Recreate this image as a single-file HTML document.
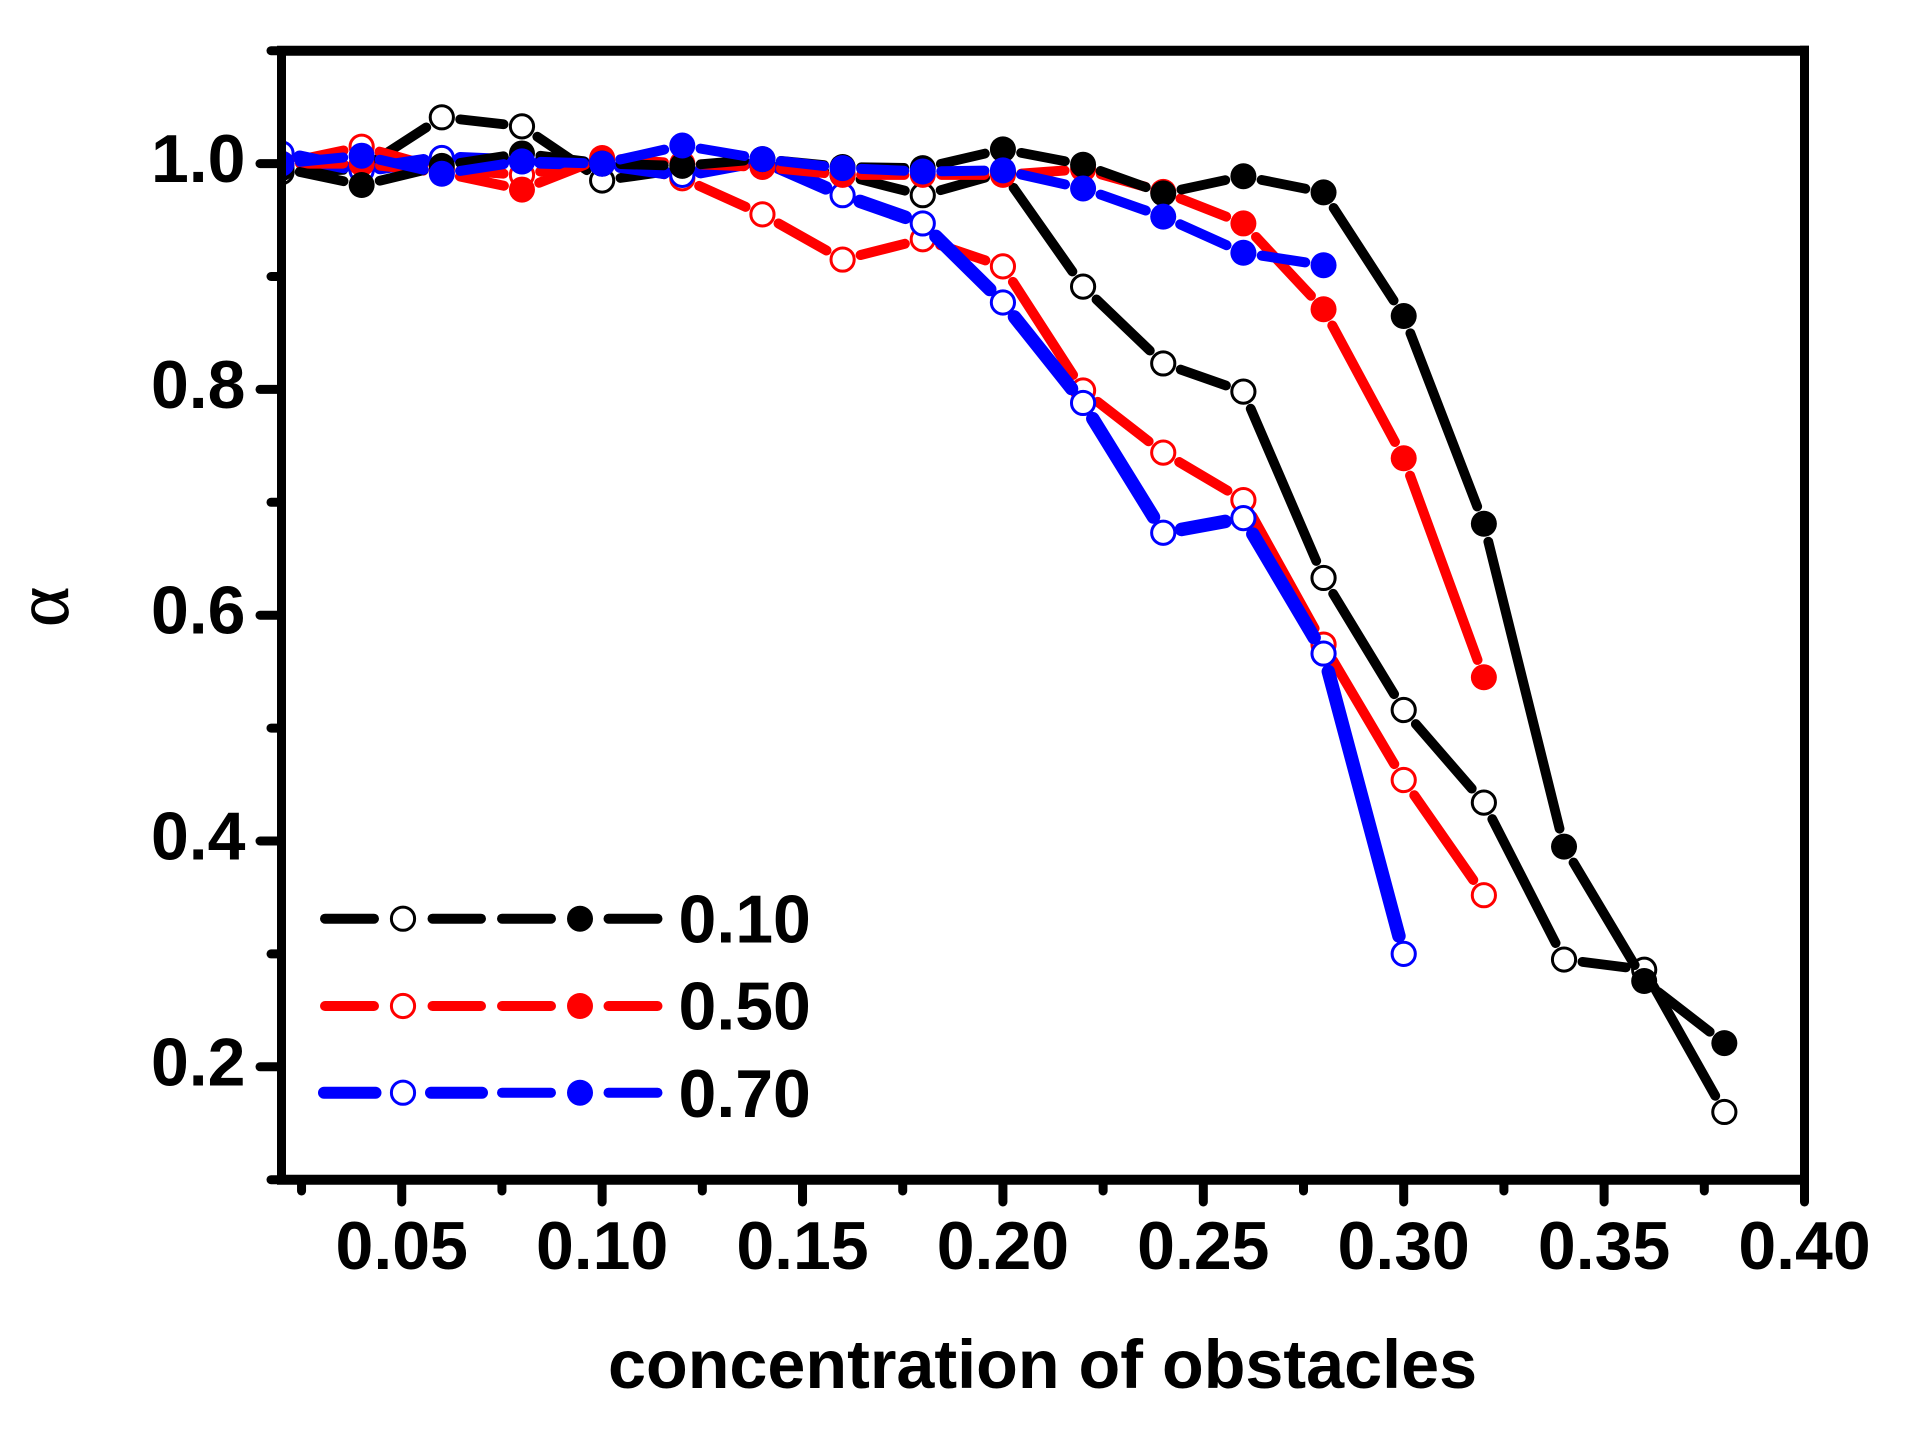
<!DOCTYPE html>
<html lang="en">
<head>
<meta charset="utf-8">
<title>Alpha vs concentration of obstacles</title>
<style>
  html, body { margin: 0; padding: 0; background: #fff; }
  svg { display: block; }
  text { fill: #000; }
  .num { font-family: "Liberation Sans", sans-serif; font-weight: bold; font-size: 68px; }
  .title { font-family: "Liberation Sans", sans-serif; font-weight: bold; font-size: 68.3px; }
  .greek { font-family: "Liberation Serif", serif; font-size: 76px; stroke: #000; stroke-width: 0.8px; }
</style>
</head>
<body>
<svg id="chart" xmlns="http://www.w3.org/2000/svg" width="1905" height="1437" viewBox="0 0 1905 1437">
  <rect x="0" y="0" width="1905" height="1437" fill="#fff"/>
  <defs><clipPath id="plot-clip"><rect x="281.5" y="46" width="1528" height="1140"/></clipPath></defs>
  <g id="plot" clip-path="url(#plot-clip)"></g>
  <g id="axes"></g>
  <text class="title" x="608" y="1388">concentration of obstacles</text>
  <text class="greek" text-anchor="middle" transform="translate(68,607) rotate(-90)">α</text>
  <g>
    <g stroke="#000" stroke-linecap="round" fill="none">
      <path stroke-width="10" d="M325 918.7H374M432.5 918.7H481"/>
      <circle cx="403" cy="918.7" r="11.6" stroke-width="3" fill="#fff"/>
      <path stroke-width="10" d="M502 918.7H551M608.5 918.7H657.5"/>
      <circle cx="580" cy="918.7" r="13" stroke="none" fill="#000"/>
      <text class="num" x="678.5" y="942.5" stroke="none" fill="#000">0.10</text>
    </g>
    <g stroke="#f00" stroke-linecap="round" fill="none">
      <path stroke-width="10" d="M325 1006H374M432.5 1006H481"/>
      <circle cx="403" cy="1006" r="11.6" stroke-width="3" fill="#fff"/>
      <path stroke-width="10" d="M502 1006H551M608.5 1006H657.5"/>
      <circle cx="580" cy="1006" r="13" stroke="none" fill="#f00"/>
      <text class="num" x="678.5" y="1029.7" stroke="none" fill="#000">0.50</text>
    </g>
    <g stroke="#00f" stroke-linecap="round" fill="none">
      <path stroke-width="12" d="M324 1092.7H375.5M431 1092.7H482"/>
      <circle cx="403" cy="1092.7" r="11.6" stroke-width="3" fill="#fff"/>
      <path stroke-width="10" d="M502 1092.7H551M608.5 1092.7H657.5"/>
      <circle cx="580" cy="1092.7" r="13" stroke="none" fill="#00f"/>
      <text class="num" x="678.5" y="1117" stroke="none" fill="#000">0.70</text>
    </g>
  </g>
</svg>
<script>
// ---- chart data ----
const concentrations = [0.02,0.04,0.06,0.08,0.10,0.12,0.14,0.16,0.18,0.20,0.22,0.24,0.26,0.28,0.30,0.32,0.34,0.36,0.38];
const blackOpenValues = [0.9925,0.995,1.041,1.033,0.985,0.995,1.003,0.99,0.972,0.992,0.891,0.823,0.798,0.633,0.516,0.434,0.295,0.286,0.16];
const blackFilledValues = [0.996,0.981,0.998,1.009,1.0,0.998,1.004,0.997,0.996,1.0126,0.999,0.9736,0.9888,0.9745,0.865,0.681,0.395,0.276,0.221];
const redOpenValues = [1.0,1.015,0.995,0.99,1.003,0.987,0.955,0.915,0.933,0.909,0.799,0.744,0.702,0.574,0.454,0.352];
const redFilledValues = [1.0,1.0,0.992,0.977,1.005,1.0,0.997,0.99,0.99,0.99,0.995,0.975,0.947,0.871,0.739,0.545];
const blueOpenValues = [1.009,0.994,1.005,1.002,1.0,0.99,1.003,0.972,0.947,0.877,0.788,0.673,0.686,0.566,0.3];
const blueFilledValues = [1.0,1.007,0.991,1.002,1.0,1.016,1.004,0.996,0.993,0.994,0.978,0.953,0.921,0.910];

const xMajorTicks = [0.05,0.10,0.15,0.20,0.25,0.30,0.35,0.40];
const xMinorTicks = [0.025,0.075,0.125,0.175,0.225,0.275,0.325,0.375];
const xTickLabels = ["0.05","0.10","0.15","0.20","0.25","0.30","0.35","0.40"];
const yMajorTicks = [0.2,0.4,0.6,0.8,1.0];
const yMinorTicks = [0.1,0.3,0.5,0.7,0.9,1.1];
const yTickLabels = ["0.2","0.4","0.6","0.8","1.0"];

// ---- axis functions ----
const SVGNS = "http://www.w3.org/2000/svg";
function xScale(v) { return 281.5 + (v - 0.02) * (1523 / 0.38); }
function yScale(v) { return 163.6 + (1 - v) * 1129; }

function make(tag, attrs, parent) {
  const el = document.createElementNS(SVGNS, tag);
  for (const k in attrs) el.setAttribute(k, attrs[k]);
  parent.appendChild(el);
  return el;
}

// ---- series ----
const plot = document.getElementById("plot");
function drawSeries(name, values, color, width, filled) {
  const g = make("g", {}, plot);
  
  
  const pts = values.map(function (v, i) { return [xScale(concentrations[i]), yScale(v)]; });
  const gap = 18.5;
  for (let i = 0; i < pts.length - 1; i++) {
    const dx = pts[i + 1][0] - pts[i][0];
    const dy = pts[i + 1][1] - pts[i][1];
    const len = Math.hypot(dx, dy);
    const ux = dx / len, uy = dy / len;
    const seg = make("line", {
      x1: pts[i][0] + ux * gap, y1: pts[i][1] + uy * gap,
      x2: pts[i + 1][0] - ux * gap, y2: pts[i + 1][1] - uy * gap,
      stroke: color, "stroke-width": width, "stroke-linecap": "round"
    }, g);
    
    
  }
  pts.forEach(function (p) {
    const dot = filled
      ? make("circle", { cx: p[0], cy: p[1], r: 13, fill: color }, g)
      : make("circle", { cx: p[0], cy: p[1], r: 11.6, fill: "#fff", stroke: color, "stroke-width": 3 }, g);
    
    
  });
}
drawSeries("black-open", blackOpenValues, "#000", 9.8, false);
drawSeries("red-open", redOpenValues, "#f00", 10, false);
drawSeries("blue-open", blueOpenValues, "#00f", 13.5, false);
drawSeries("red-filled", redFilledValues, "#f00", 10, true);
drawSeries("black-filled", blackFilledValues, "#000", 9.8, true);
drawSeries("blue-filled", blueFilledValues, "#00f", 10, true);

// ---- axes ----
const axes = document.getElementById("axes");
const frameX0 = xScale(0.02), frameX1 = xScale(0.40);
const frameY0 = yScale(0.1), frameY1 = yScale(1.1);

function axisLine(name, x1, y1, x2, y2, w, cap) {
  const l = make("line", { x1: x1, y1: y1, x2: x2, y2: y2, stroke: "#000", "stroke-width": w, "stroke-linecap": cap }, axes);
  
  
}
axisLine("axis-top", frameX0 - 4.5, frameY1, frameX1 + 4.5, frameY1, 10, "butt");
axisLine("axis-bottom", frameX0 - 4.5, frameY0, frameX1 + 4.5, frameY0, 10, "butt");
axisLine("axis-left", frameX0, frameY1, frameX0, frameY0, 9, "butt");
axisLine("axis-right", frameX1, frameY1 - 5, frameX1, frameY0, 9, "butt");

yMajorTicks.forEach(function (v) { axisLine("y-major-tick", 260, yScale(v), frameX0, yScale(v), 9, "round"); });
yMinorTicks.forEach(function (v) { axisLine("y-minor-tick", 271, yScale(v), frameX0, yScale(v), 9, "round"); });
xMajorTicks.forEach(function (v) { axisLine("x-major-tick", xScale(v), frameY0, xScale(v), 1202, 9, "round"); });
xMinorTicks.forEach(function (v) { axisLine("x-minor-tick", xScale(v), frameY0, xScale(v), 1191, 9, "round"); });

xMajorTicks.forEach(function (v, i) {
  const t = make("text", { x: xScale(v), y: 1269, "text-anchor": "middle", "class": "num" }, axes);
  
  
  t.textContent = xTickLabels[i];
});
yMajorTicks.forEach(function (v, i) {
  const t = make("text", { x: 245.5, y: yScale(v) + 18.5, "text-anchor": "end", "class": "num" }, axes);
  
  
  t.textContent = yTickLabels[i];
});
</script>
</body>
</html>
